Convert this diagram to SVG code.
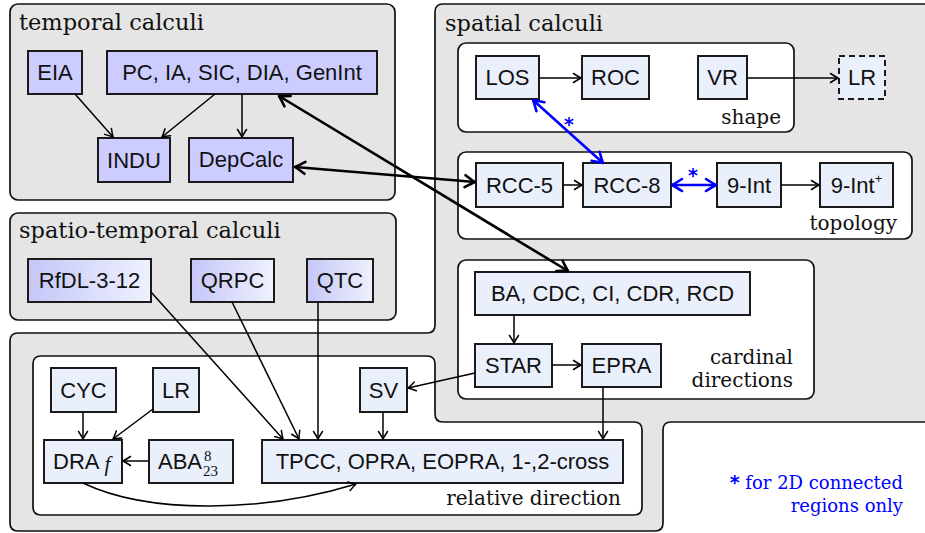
<svg xmlns="http://www.w3.org/2000/svg" width="925" height="533" viewBox="0 0 925 533">
<style>
.area{fill:#e5e5e5;stroke:#111;stroke-width:1.7}
.inner{fill:#fff;stroke:#111;stroke-width:1.7}
.nt{fill:#ccccff;stroke:#1a1a1a;stroke-width:2}
.ns{fill:#eaeffc;stroke:#1a1a1a;stroke-width:2}
.ng{fill:url(#stg);stroke:#1a1a1a;stroke-width:2}
.nd{fill:#eaeffc;stroke:#1a1a1a;stroke-width:2;stroke-dasharray:6 4}
.lbl{font-family:"Liberation Sans",Arial,sans-serif;font-size:22px;text-anchor:middle;fill:#111}
.ttl{font-family:"DejaVu Serif","Liberation Serif",serif;font-size:22.5px;fill:#111}
.sub{font-family:"DejaVu Serif","Liberation Serif",serif;font-size:20px;text-anchor:end;fill:#111}
.e{fill:none;stroke:#000;stroke-width:1.5}
.eT{fill:none;stroke:#000;stroke-width:2.6}
.eB{fill:none;stroke:#0000ff;stroke-width:2.6}
.star{font-family:"DejaVu Sans",sans-serif;font-weight:bold;font-size:19px;fill:#0000ff;text-anchor:middle}
.leg{font-family:"DejaVu Serif","Liberation Serif",serif;font-size:18px;fill:#0000ff;text-anchor:end}
</style>
<defs>
<linearGradient id="stg" x1="0" y1="0" x2="1" y2="0">
<stop offset="0" stop-color="#c6c6f8"/>
<stop offset="1" stop-color="#eef2fd"/>
</linearGradient>
<marker id="ah" viewBox="-10 -7 12 14" refX="0" refY="0" markerWidth="12" markerHeight="14" markerUnits="userSpaceOnUse" orient="auto-start-reverse">
<path d="M-7.5,-4.5 Q-2.5,-1.2 0,0 Q-2.5,1.2 -7.5,4.5" fill="none" stroke="#000" stroke-width="1.5" stroke-linecap="round" stroke-linejoin="round"/>
</marker>
<marker id="ahT" viewBox="-13 -8 15 16" refX="0" refY="0" markerWidth="15" markerHeight="16" markerUnits="userSpaceOnUse" orient="auto-start-reverse">
<path d="M-10,-6 Q-3,-1.5 0,0 Q-3,1.5 -10,6" fill="none" stroke="#000" stroke-width="2.6" stroke-linecap="round" stroke-linejoin="round"/>
</marker>
<marker id="ahB" viewBox="-13 -8 15 16" refX="0" refY="0" markerWidth="15" markerHeight="16" markerUnits="userSpaceOnUse" orient="auto-start-reverse">
<path d="M-10,-6 Q-3,-1.5 0,0 Q-3,1.5 -10,6" fill="none" stroke="#0000ff" stroke-width="2.6" stroke-linecap="round" stroke-linejoin="round"/>
</marker>
</defs>

<rect x="0" y="0" width="925" height="533" fill="#fff"/>

<g id="areas">
<path class="area" d="M10,341 Q10,333 18,333 H427 Q435,333 435,325 V12 Q435,4 443,4 H935 V422 H671 Q663,422 663,430 V523 Q663,531 655,531 H18 Q10,531 10,523 Z"/>
<rect class="area" x="10" y="4" width="385" height="196" rx="8"/>
<rect class="area" x="10" y="213" width="386" height="107" rx="8"/>
<rect class="inner" x="458" y="43" width="336" height="89" rx="8"/>
<rect class="inner" x="458" y="152" width="454" height="87" rx="8"/>
<rect class="inner" x="458" y="260" width="356" height="139" rx="8"/>
<path class="inner" d="M41,356 H427 Q435,356 435,364 V414 Q435,422 443,422 H634 Q642,422 642,430 V507 Q642,515 634,515 H41 Q33,515 33,507 V364 Q33,356 41,356 Z"/>
<text class="ttl" x="19" y="30">temporal calculi</text>
<text class="ttl" x="19" y="238">spatio-temporal calculi</text>
<text class="ttl" x="445" y="31">spatial calculi</text>
<text class="sub" x="781" y="124">shape</text>
<text class="sub" x="897" y="230">topology</text>
<text class="sub" x="793" y="364">cardinal</text>
<text class="sub" x="793" y="387">directions</text>
<text class="sub" x="621" y="505">relative direction</text>
</g>

<g id="EIA"><rect class="nt" x="28" y="51" width="54" height="43"/><text class="lbl" x="55" y="80">EIA</text></g>
<g id="PC"><rect class="nt" x="107" y="51" width="270" height="43"/><text class="lbl" x="242" y="80">PC, IA, SIC, DIA, GenInt</text></g>
<g id="INDU"><rect class="nt" x="98" y="138" width="72" height="44"/><text class="lbl" x="134" y="168">INDU</text></g>
<g id="DepCalc"><rect class="nt" x="189" y="138" width="104" height="44"/><text class="lbl" x="241" y="167">DepCalc</text></g>

<g id="RfDL"><rect class="ng" x="28" y="259" width="123" height="43"/><text class="lbl" x="89.5" y="288">RfDL-3-12</text></g>
<g id="QRPC"><rect class="ng" x="191" y="259" width="83" height="43"/><text class="lbl" x="232.5" y="288">QRPC</text></g>
<g id="QTC"><rect class="ng" x="307" y="259" width="66" height="43"/><text class="lbl" x="340" y="288">QTC</text></g>

<g id="LOS"><rect class="ns" x="476" y="56" width="63" height="43"/><text class="lbl" x="507.5" y="85">LOS</text></g>
<g id="ROC"><rect class="ns" x="582" y="56" width="67" height="43"/><text class="lbl" x="615.5" y="85">ROC</text></g>
<g id="VR"><rect class="ns" x="698" y="56" width="49" height="43"/><text class="lbl" x="722.5" y="85">VR</text></g>
<g id="LRs"><rect class="nd" x="839" y="56" width="46" height="43"/><text class="lbl" x="862" y="85">LR</text></g>
<g id="RCC5"><rect class="ns" x="476" y="163" width="87" height="44"/><text class="lbl" x="519.5" y="193">RCC-5</text></g>
<g id="RCC8"><rect class="ns" x="583" y="163" width="88" height="44"/><text class="lbl" x="627" y="193">RCC-8</text></g>
<g id="NineInt"><rect class="ns" x="717" y="163" width="64" height="44"/><text class="lbl" x="749" y="193">9-Int</text></g>
<g id="NineIntPlus"><rect class="ns" x="820" y="163" width="73" height="44"/><text class="lbl" x="856.5" y="193">9-Int<tspan font-size="13" dy="-10">+</tspan></text></g>
<g id="BA"><rect class="ns" x="475" y="272" width="275" height="43"/><text class="lbl" x="612.5" y="301">BA, CDC, CI, CDR, RCD</text></g>
<g id="STAR"><rect class="ns" x="475" y="344" width="77" height="43"/><text class="lbl" x="513.5" y="373">STAR</text></g>
<g id="EPRA"><rect class="ns" x="582" y="344" width="79" height="43"/><text class="lbl" x="621.5" y="373">EPRA</text></g>

<g id="SV"><rect class="ns" x="360" y="368" width="47" height="44"/><text class="lbl" x="383.5" y="398">SV</text></g>
<g id="CYC"><rect class="ns" x="51" y="368" width="65" height="44"/><text class="lbl" x="83.5" y="398">CYC</text></g>
<g id="LRr"><rect class="ns" x="153" y="368" width="46" height="44"/><text class="lbl" x="176" y="398">LR</text></g>
<g id="DRAf"><rect class="ns" x="44" y="440" width="78" height="43"/><text class="lbl" x="53" y="469" text-anchor="start" style="text-anchor:start">DRA<tspan font-family="'Liberation Serif',serif" font-style="italic" font-size="21" dx="5" dy="2">f</tspan></text></g>
<g id="ABA"><rect class="ns" x="149" y="440" width="84" height="43"/><text class="lbl" x="158" y="469" style="text-anchor:start">ABA</text><text x="204" y="461" font-family="'Liberation Serif',serif" font-size="15" fill="#111">8</text><text x="203" y="476" font-family="'Liberation Serif',serif" font-size="15" fill="#111">23</text></g>
<g id="TPCC"><rect class="ns" x="262" y="440" width="361" height="43"/><text class="lbl" x="442.5" y="469">TPCC, OPRA, EOPRA, 1-,2-cross</text></g>

<g id="connectors">
<line class="e" x1="75" y1="94" x2="113" y2="137" marker-end="url(#ah)"/>
<line class="e" x1="215" y1="94" x2="162" y2="137" marker-end="url(#ah)"/>
<line class="e" x1="242" y1="94" x2="242" y2="137" marker-end="url(#ah)"/>
<line class="e" x1="539" y1="78" x2="581" y2="78" marker-end="url(#ah)"/>
<line class="e" x1="747" y1="78" x2="838" y2="78" marker-end="url(#ah)"/>
<line class="e" x1="563" y1="185" x2="582" y2="185" marker-end="url(#ah)"/>
<line class="e" x1="781" y1="185" x2="819" y2="185" marker-end="url(#ah)"/>
<line class="e" x1="514" y1="315" x2="514" y2="343" marker-end="url(#ah)"/>
<line class="e" x1="552" y1="365" x2="581" y2="365" marker-end="url(#ah)"/>
<line class="e" x1="475" y1="373" x2="408" y2="388" marker-end="url(#ah)"/>
<line class="e" x1="603" y1="387" x2="603" y2="439" marker-end="url(#ah)"/>
<line class="e" x1="383" y1="412" x2="383" y2="439" marker-end="url(#ah)"/>
<line class="e" x1="151" y1="292" x2="283" y2="439" marker-end="url(#ah)"/>
<line class="e" x1="232" y1="302" x2="299" y2="439" marker-end="url(#ah)"/>
<line class="e" x1="318" y1="302" x2="318" y2="439" marker-end="url(#ah)"/>
<line class="e" x1="83" y1="412" x2="83" y2="439" marker-end="url(#ah)"/>
<line class="e" x1="153" y1="409" x2="113" y2="439" marker-end="url(#ah)"/>
<line class="e" x1="149" y1="461" x2="123" y2="461" marker-end="url(#ah)"/>
<path class="e" d="M83,483 C150,515 265,512 356,484" marker-end="url(#ah)"/>
<line class="eT" x1="279" y1="96" x2="568" y2="271" marker-start="url(#ahT)" marker-end="url(#ahT)"/>
<line class="eT" x1="295" y1="167" x2="475" y2="182" marker-start="url(#ahT)" marker-end="url(#ahT)"/>
<line class="eB" x1="533" y1="100" x2="603" y2="163" marker-start="url(#ahB)" marker-end="url(#ahB)"/>
<line class="eB" x1="672" y1="185" x2="716" y2="185" marker-start="url(#ahB)" marker-end="url(#ahB)"/>
<text class="star" x="569" y="131">*</text>
<text class="star" x="693" y="182">*</text>
</g>

<g id="legend">
<text class="leg" x="903" y="489"><tspan font-family="'DejaVu Sans',sans-serif" font-weight="bold" font-size="19">*</tspan> for 2D connected</text>
<text class="leg" x="903" y="512">regions only</text>
</g>
</svg>
